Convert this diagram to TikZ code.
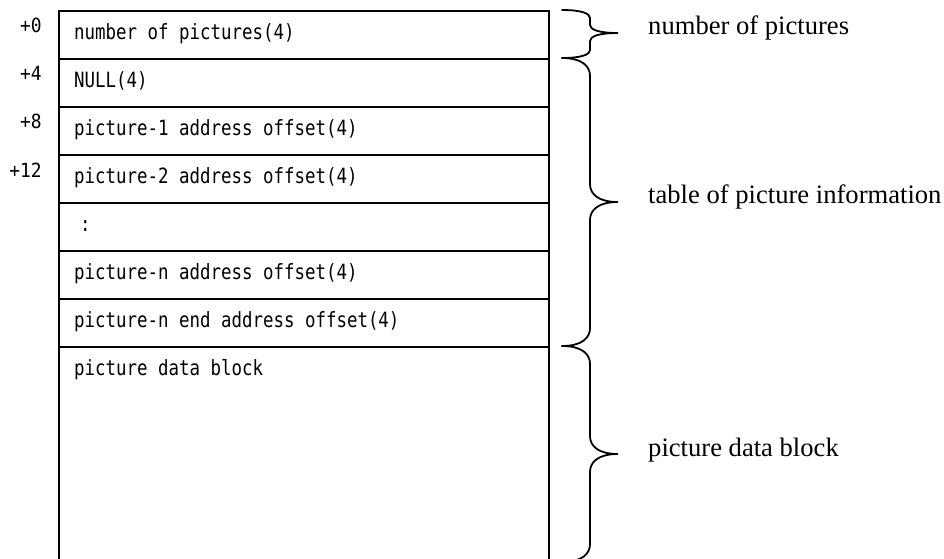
\documentclass[tikz,border=0pt]{standalone}
\usepackage{fontspec}
\setmainfont{Liberation Serif}
\newfontfamily\gothic[FakeStretch=0.83]{DejaVu Sans Mono}
\newfontfamily\gothicoff[FakeStretch=0.92]{DejaVu Sans Mono}
\newcommand\drawbrace[4]{%
  \draw[bracestyle] (562,#1) .. controls (582,#1) and (590,#1+#4*0.45) .. (590,#1+#4)
    -- (590,#2-#4) .. controls (590,#2-#4*0.45) and (598,#2) .. (618,#2)
    .. controls (598,#2) and (590,#2+#4*0.45) .. (590,#2+#4)
    -- (590,#3-#4) .. controls (590,#3-#4*0.45) and (582,#3) .. (562,#3);}
\begin{document}
\begin{tikzpicture}[x=1pt,y=-1pt,
  rowbox/.style={draw=black,line width=1.8pt,minimum width=490pt,inner sep=0pt,anchor=north west},
  rowtext/.style={anchor=base west,inner sep=0pt,font=\gothic\fontsize{21}{21}\selectfont},
  offtext/.style={anchor=base east,inner sep=0pt,font=\gothicoff\fontsize{19.5}{19.5}\selectfont},
  lbl/.style={anchor=base west,inner sep=0pt,font=\fontsize{26.6}{26.6}\selectfont},
  bracestyle/.style={draw=black,line width=1.8pt,line cap=round}]
\useasboundingbox (0,0) rectangle (944,558);
% rows
\node[rowbox,minimum height=48pt] (r1) at (58,10) {};
\node[rowbox,minimum height=48pt] (r2) at (58,58) {};
\node[rowbox,minimum height=48pt] (r3) at (58,106) {};
\node[rowbox,minimum height=48pt] (r4) at (58,154) {};
\node[rowbox,minimum height=48pt] (r5) at (58,202) {};
\node[rowbox,minimum height=48pt] (r6) at (58,250) {};
\node[rowbox,minimum height=48pt] (r7) at (58,298) {};
\node[rowbox,minimum height=216pt] (r8) at (58,346) {};
% row texts
\node[rowtext] (t1) at (74,39.5) {number of pictures(4)};
\node[rowtext] (t2) at (74,87.5) {NULL(4)};
\node[rowtext] (t3) at (74,135.5) {picture-1 address offset(4)};
\node[rowtext] (t4) at (74,183.5) {picture-2 address offset(4)};
\node[rowtext] (t5) at (80,231.5) {:};
\node[rowtext] (t6) at (74,279.5) {picture-n address offset(4)};
\node[rowtext] (t7) at (74,327.5) {picture-n end address offset(4)};
\node[rowtext] (t8) at (74,375.5) {picture data block};
% offsets
\node[offtext] (o1) at (42,32) {+0};
\node[offtext] (o2) at (42,80) {+4};
\node[offtext] (o3) at (42,128) {+8};
\node[offtext] (o4) at (42,177) {+12};
% braces
\drawbrace{10}{33}{58}{8}
\drawbrace{58}{202}{346}{18}
\drawbrace{346}{454}{562}{18}
% labels
\node[lbl] (l1) at (648,34) {number of pictures};
\node[lbl] (l2) at (648,203) {table of picture information};
\node[lbl] (l3) at (648,456) {picture data block};
\end{tikzpicture}
\end{document}
